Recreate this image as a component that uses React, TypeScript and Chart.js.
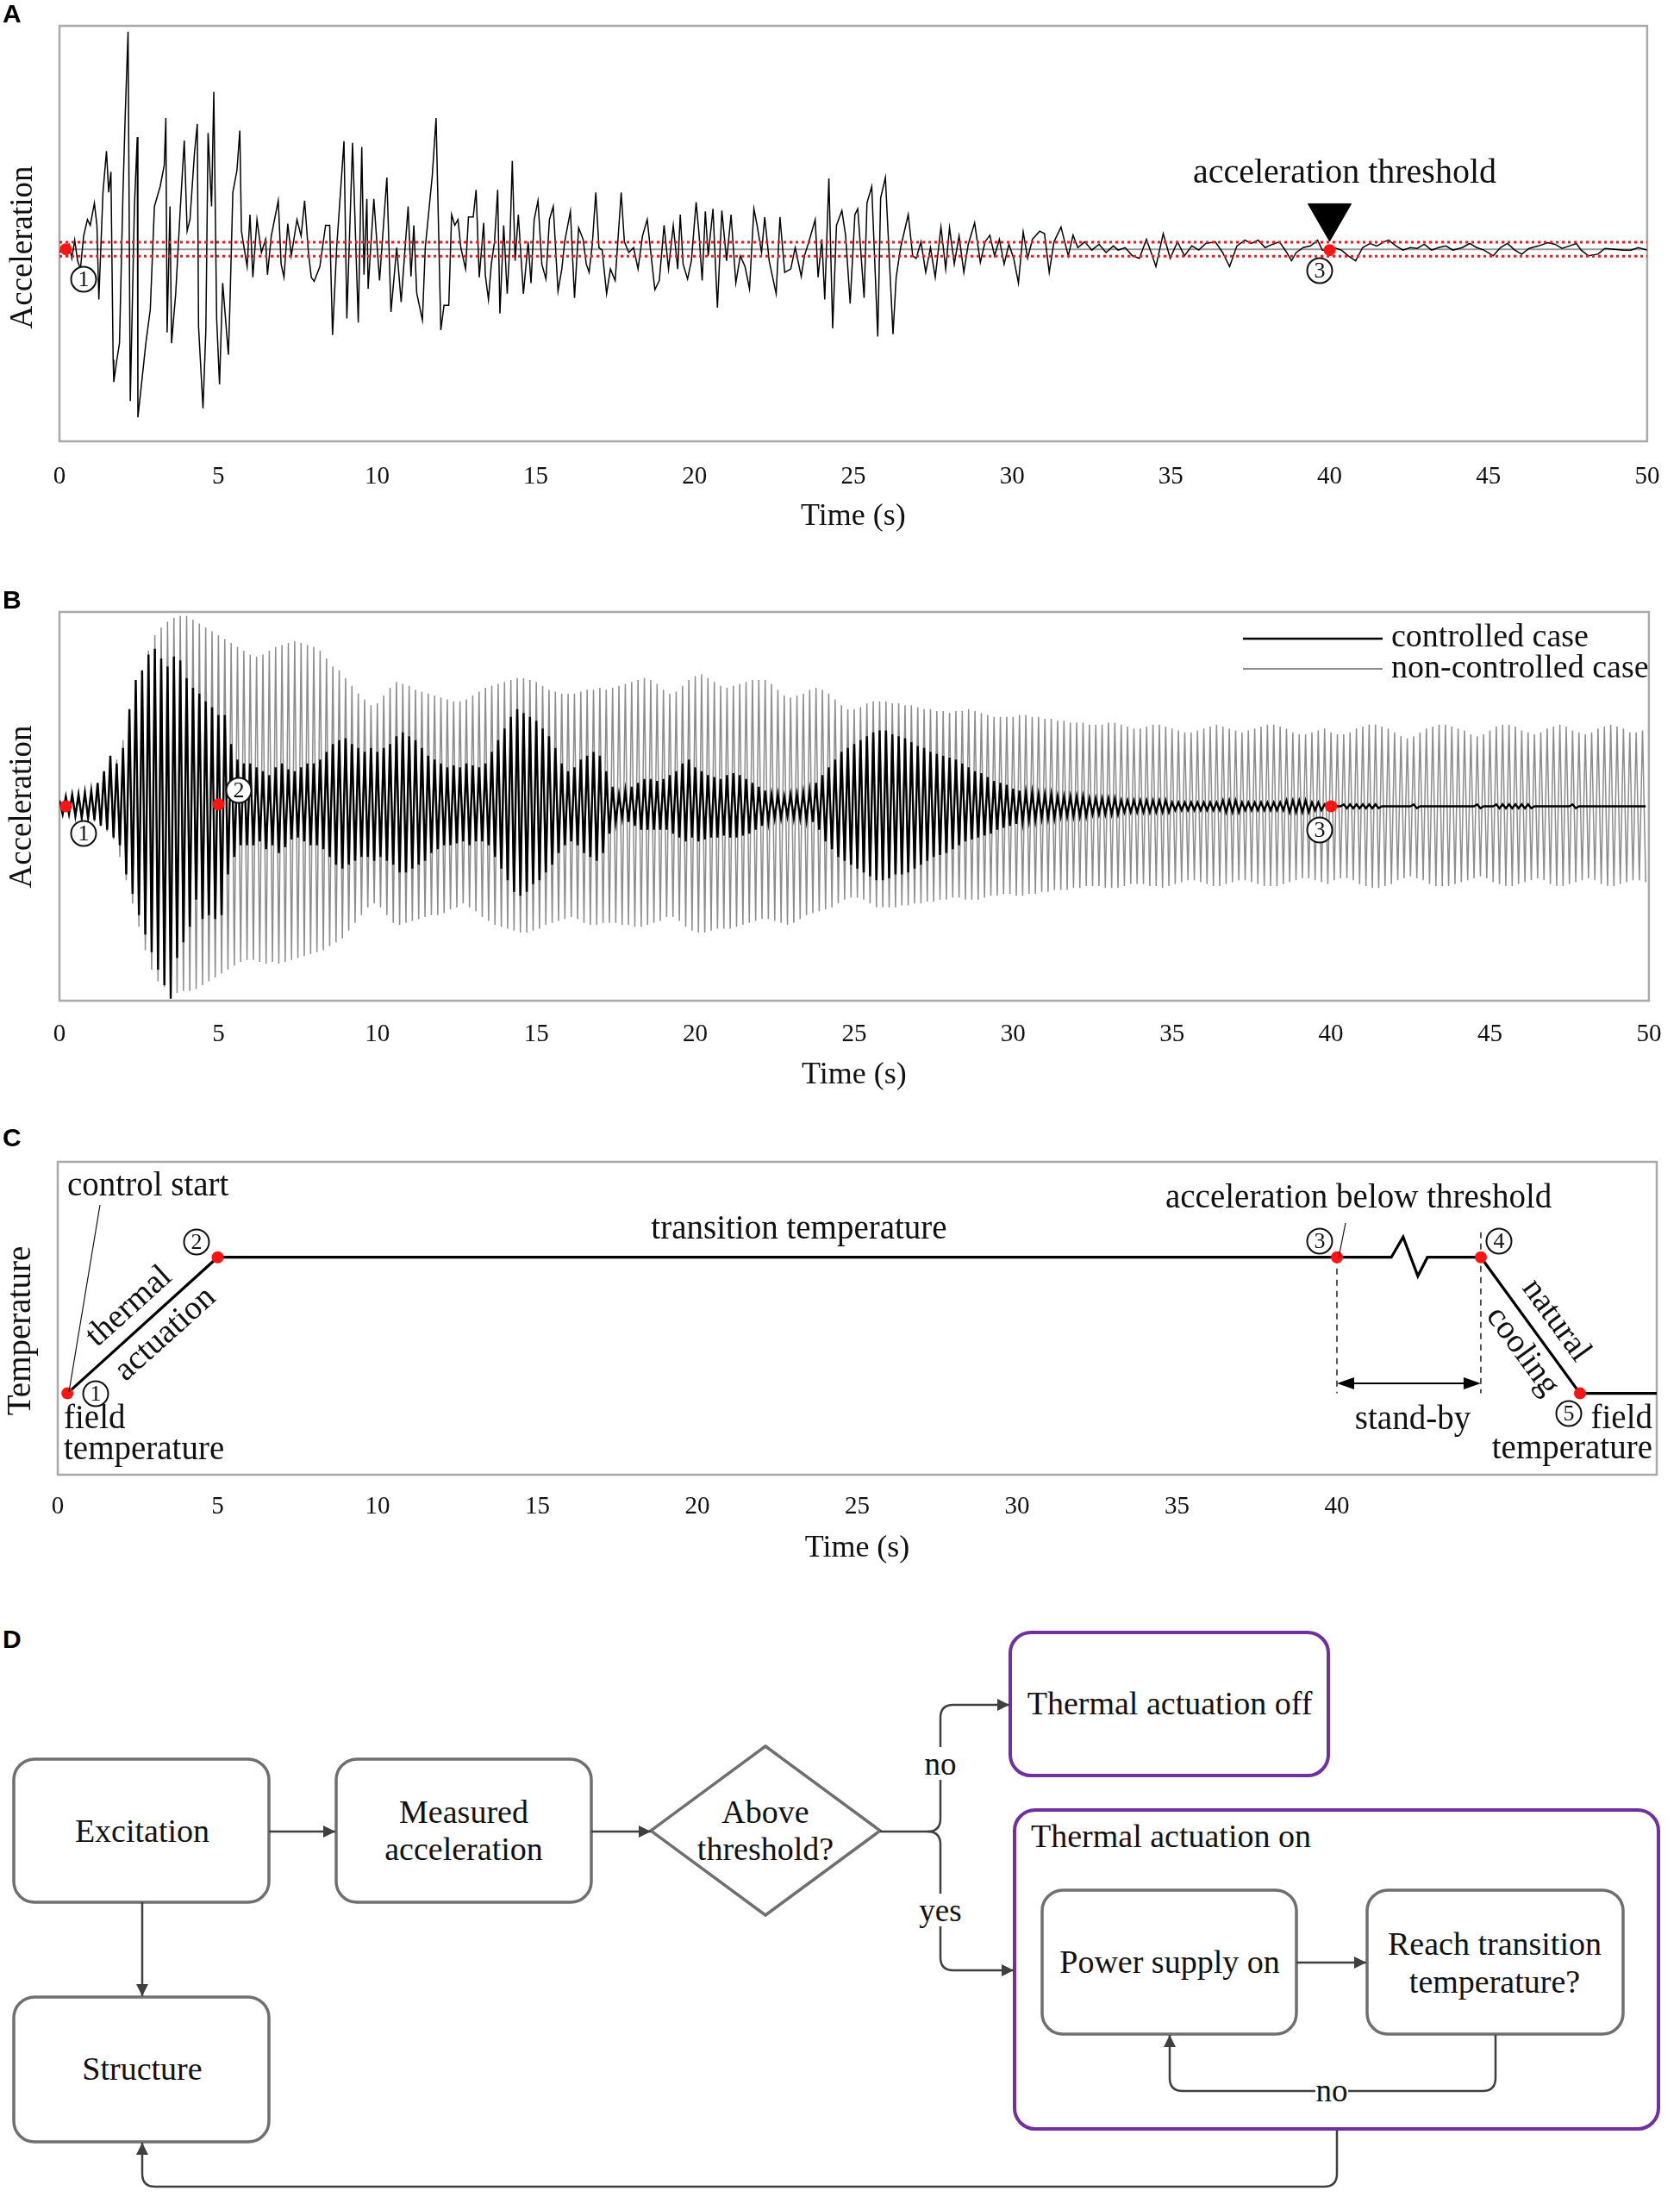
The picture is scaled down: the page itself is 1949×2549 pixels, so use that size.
import React, { useEffect, useRef } from 'react';
import { Chart, registerables } from 'chart.js';

Chart.register(...registerables);

const SERIF = '"Liberation Serif", "Times New Roman", Times, serif';
const SANS = '"Liberation Sans", Arial, Helvetica, sans-serif';
const INK = '#111111';
const FRAME = '#a9a9a9';
const RED = '#ff1414';
const PAGE_W = 1949;

// ---------------- shared time axis ----------------
const timeMin = 0;
const timeMax = 50;
const timeTickStep = 5;
const timeTickLabelsC = [0, 5, 10, 15, 20, 25, 30, 35, 40];

// ---------------- Panel A: measured acceleration ----------------
const timeA = [
  0, 0.1, 0.2, 0.3, 0.39, 0.48, 0.57, 0.66, 0.76, 0.88,
  0.97, 1.1, 1.18, 1.24, 1.37, 1.48, 1.55, 1.62, 1.69, 1.71,
  1.8, 1.89, 2.0, 2.07, 2.16, 2.23, 2.36, 2.45, 2.47, 2.61,
  2.72, 2.86, 2.99, 3.17, 3.3, 3.35, 3.39, 3.48, 3.53, 3.66,
  3.8, 3.93, 4.02, 4.11, 4.25, 4.34, 4.38, 4.52, 4.61, 4.68,
  4.79, 4.86, 4.95, 5.04, 5.14, 5.32, 5.37, 5.46, 5.59, 5.68,
  5.73, 5.91, 6.0, 6.09, 6.22, 6.36, 6.49, 6.55, 6.67, 6.89,
  6.98, 7.07, 7.19, 7.3, 7.48, 7.61, 7.72, 7.84, 7.93, 8.02,
  8.2, 8.38, 8.51, 8.6, 8.73, 8.96, 9.05, 9.23, 9.41, 9.52,
  9.59, 9.68, 9.72, 9.9, 10.08, 10.31, 10.44, 10.62, 10.76, 10.98,
  11.07, 11.16, 11.25, 11.43, 11.52, 11.74, 11.86, 12.01, 12.11, 12.26,
  12.35, 12.45, 12.55, 12.64, 12.79, 12.88, 13.03, 13.12, 13.22, 13.36,
  13.41, 13.51, 13.6, 13.7, 13.8, 13.87, 13.99, 14.1, 14.18, 14.26,
  14.35, 14.45, 14.61, 14.76, 14.85, 14.95, 15.07, 15.19, 15.32, 15.43,
  15.55, 15.7, 15.82, 15.91, 16.09, 16.22, 16.35, 16.49, 16.59, 16.68,
  16.78, 16.89, 16.99, 17.09, 17.23, 17.35, 17.5, 17.69, 17.79, 17.93,
  18.08, 18.22, 18.36, 18.51, 18.61, 18.75, 18.89, 19.04, 19.18, 19.33,
  19.47, 19.55, 19.64, 19.78, 19.9, 20.05, 20.14, 20.24, 20.34, 20.43,
  20.58, 20.72, 20.86, 21.01, 21.15, 21.3, 21.44, 21.59, 21.73, 21.87,
  21.97, 22.11, 22.21, 22.35, 22.57, 22.69, 22.84, 23.03, 23.17, 23.36,
  23.46, 23.6, 23.8, 23.89, 24.01, 24.1, 24.23, 24.35, 24.47, 24.64,
  24.76, 24.9, 25.05, 25.14, 25.34, 25.43, 25.58, 25.77, 25.86, 26.01,
  26.25, 26.35, 26.49, 26.73, 26.87, 26.98, 27.13, 27.28, 27.43, 27.58,
  27.76, 27.91, 28.03, 28.18, 28.33, 28.48, 28.62, 28.82, 29.0, 29.15,
  29.3, 29.45, 29.6, 29.75, 29.9, 30.05, 30.2, 30.35, 30.49, 30.64,
  30.87, 31.02, 31.17, 31.32, 31.54, 31.77, 31.92, 32.07, 32.29, 32.51,
  32.74, 32.96, 33.19, 33.34, 33.56, 33.79, 34.01, 34.23, 34.38, 34.53,
  34.76, 34.98, 35.21, 35.43, 35.66, 35.88, 36.1, 36.4, 36.63, 36.85,
  37.08, 37.33, 37.53, 37.75, 37.97, 38.2, 38.42, 38.65, 38.8, 38.95,
  39.17, 39.4, 39.62, 39.77, 40.0, 40.14, 40.37, 40.59, 40.82, 41.04,
  41.27, 41.49, 41.71, 41.86, 42.09, 42.31, 42.54, 42.76, 42.98, 43.21,
  43.43, 43.66, 43.88, 44.18, 44.41, 44.63, 44.86, 45.15, 45.38, 45.6,
  45.83, 46.05, 46.28, 46.58, 46.87, 47.1, 47.32, 47.55, 47.77, 47.92,
  48.15, 48.45, 48.67, 48.97, 49.27, 49.49, 49.72, 50.0,
];
const accelA = [
  -4, 3, 0, 6, -11, 11, -14, -24, 16, 36,
  29, 56, 29, -61, 69, 119, 69, 94, -134, -161,
  -136, -114, 69, 162, 264, -184, 52, 136, -204, -154,
  -114, -73, 52, 76, 102, 159, -101, 52, -114, -54,
  46, 132, 22, 36, 116, 152, -94, -193, -98, 141,
  52, 191, -84, -164, -41, -128, -64, 69, 96, 144,
  22, -21, 42, -34, 36, -4, 12, -31, 16, 59,
  -18, -34, 31, -8, 36, 16, 59, -4, -34, -39,
  -21, 29, 29, -104, 2, 131, -84, 129, -89, 124,
  -31, 61, -48, 61, -38, 87, -76, 2, -64, 52,
  -33, 29, -53, -86, 2, 89, 159, -98, -68, -68,
  42, 29, 36, 2, -24, 39, 39, 72, -34, 32,
  -31, -61, -18, 9, 72, -78, 29, -54, 2, 107,
  -14, 42, -54, 9, -41, 36, 59, -18, -36, 36,
  52, -51, -24, 9, 46, -59, 26, 12, -18, -28,
  6, 69, 2, -1, -54, -24, -38, 69, 9, -4,
  2, -24, 16, 36, 0, -49, -38, 29, -24, 29,
  -24, 42, -18, -36, -14, 57, 19, -38, 46, -8,
  49, -71, 47, -14, 42, -41, -8, -21, -48, 49,
  29, -4, 39, -14, -54, 39, -28, -24, 2, -33,
  -8, 9, 36, -34, 12, -61, 86, -96, 29, 47,
  16, -66, 42, 49, -59, 56, 76, -106, 62, 87,
  -103, -34, 2, 42, -8, -11, 9, -28, 2, -34,
  27, -24, 26, -18, 16, -28, 6, 32, -16, 9,
  17, -8, 12, -18, 6, -11, -41, 21, -11, 12,
  22, 19, -28, 9, 27, -8, 17, 2, 9, -1,
  6, -4, 4, -1, 2, -8, -11, 12, -4, -21,
  19, -11, 9, -8, 4, -1, 7, 9, -4, -21,
  4, 11, 7, 11, 2, 6, 9, -4, -14, -4,
  2, 4, 11, -1, -1, 2, -1, -8, -14, 2,
  7, 4, 9, 11, 4, -1, 2, 1, 6, -1,
  2, 4, -1, 2, 7, 2, -1, -8, 2, 7,
  -1, -6, 1, 4, 8, 6, 1, 4, 7, -1,
  -8, -6, 1, 0, -1, -1, 2, -1,
];
const accelRangeA = [-233, 271];
const thresholdA = 8.5;
const markerTimesA = [0.2, 40];
const markerAccelA = [0, -1];
const thresholdArrowLevelA = 40;

// ---------------- Panel B: controlled vs non-controlled ----------------
const sampleStepB = 0.1;
const nonControlledB = [
  3, -4, 5, -4, 6, -5, 7, -6, 8, -7, 9, -8, 11, -10, 14, -13, 18, -17, 24, -26,
  34, -38, 46, -50, 58, -62, 70, -74, 80, -84, 88, -90, 92, -93, 95, -95, 97, -96, 98, -95,
  98, -95, 96, -94, 94, -92, 92, -90, 90, -88, 88, -86, 86, -84, 84, -82, 82, -80, 80, -79,
  78, -79, 77, -80, 78, -81, 80, -80, 82, -81, 83, -80, 84, -79, 85, -78, 84, -77, 83, -76,
  82, -75, 80, -74, 76, -72, 72, -70, 70, -68, 66, -64, 62, -60, 58, -56, 55, -52, 52, -50,
  53, -52, 57, -56, 61, -60, 64, -61, 63, -60, 62, -59, 60, -58, 59, -57, 58, -56, 57, -56,
  56, -55, 55, -53, 54, -52, 54, -50, 55, -52, 57, -54, 59, -57, 61, -59, 62, -61, 63, -62,
  64, -63, 65, -64, 66, -65, 66, -65, 65, -64, 64, -63, 62, -61, 60, -60, 59, -59, 58, -58,
  58, -57, 58, -58, 59, -60, 60, -61, 60, -61, 61, -60, 60, -60, 61, -60, 62, -61, 63, -61,
  64, -62, 65, -62, 66, -61, 65, -60, 63, -59, 60, -57, 58, -57, 59, -59, 62, -62, 65, -64,
  67, -65, 68, -65, 66, -64, 64, -63, 62, -63, 61, -63, 62, -62, 63, -61, 64, -60, 65, -59,
  65, -58, 65, -58, 63, -59, 60, -60, 57, -61, 56, -60, 57, -58, 58, -56, 60, -55, 61, -54,
  60, -53, 58, -52, 55, -50, 52, -48, 50, -47, 50, -47, 51, -48, 53, -50, 54, -52, 54, -52,
  54, -52, 53, -52, 53, -51, 52, -51, 52, -50, 51, -50, 50, -49, 50, -49, 49, -48, 49, -48,
  48, -47, 49, -47, 49, -48, 50, -48, 49, -48, 48, -47, 47, -46, 46, -46, 46, -45, 46, -45,
  46, -46, 47, -46, 47, -45, 46, -45, 46, -44, 45, -44, 45, -43, 44, -43, 44, -43, 43, -42,
  43, -42, 43, -41, 42, -41, 42, -41, 42, -42, 43, -42, 43, -42, 42, -41, 41, -40, 40, -40,
  40, -40, 41, -41, 42, -41, 42, -42, 41, -41, 40, -40, 39, -39, 38, -38, 38, -38, 39, -39,
  40, -40, 41, -41, 42, -41, 41, -40, 40, -39, 39, -38, 38, -38, 39, -39, 40, -40, 41, -41,
  42, -41, 42, -41, 41, -40, 40, -39, 38, -38, 37, -37, 37, -37, 38, -38, 39, -39, 40, -40,
  38, -38, 37, -37, 37, -37, 38, -38, 40, -40, 41, -41, 42, -42, 42, -42, 41, -41, 40, -40,
  38, -38, 36, -37, 35, -36, 36, -37, 38, -38, 40, -40, 41, -41, 42, -41, 42, -41, 41, -40,
  40, -39, 39, -38, 37, -37, 36, -36, 37, -37, 39, -39, 41, -40, 42, -41, 42, -41, 41, -40,
  39, -39, 38, -38, 37, -37, 38, -38, 40, -40, 41, -41, 42, -41, 41, -40, 39, -39, 38, -38,
  37, -37, 38, -38, 40, -40, 41, -41, 42, -41, 41, -40, 40, -39, 38, -38, 38, -38, 39, -39,
];
const controlledB = [
  3, -4, 5, -4, 6, -5, 6, -6, 7, -6, 8, -7, 12, -10, 18, -12, 26, -16, 22, -20,
  30, -35, 50, -45, 65, -56, 70, -66, 78, -75, 81, -84, 76, -92, 72, -99, 77, -78, 75, -70,
  66, -62, 61, -48, 58, -58, 54, -56, 51, -58, 47, -56, 47, -35, 32, -26, 24, -20, 22, -20,
  22, -20, 20, -18, 18, -22, 16, -20, 20, -24, 22, -21, 19, -17, 18, -16, 20, -18, 22, -20,
  22, -20, 24, -22, 28, -26, 32, -30, 34, -32, 35, -30, 32, -28, 30, -26, 28, -26, 30, -28,
  28, -26, 30, -28, 32, -30, 36, -34, 38, -34, 36, -32, 34, -30, 30, -28, 26, -24, 24, -22,
  22, -20, 20, -20, 21, -19, 20, -18, 22, -20, 21, -18, 20, -18, 22, -20, 28, -26, 34, -32,
  40, -38, 46, -44, 50, -46, 48, -44, 46, -40, 44, -38, 40, -34, 36, -30, 30, -24, 22, -20,
  18, -18, 20, -20, 24, -24, 26, -26, 28, -28, 26, -24, 18, -14, 10, -8, 6, -6, 8, -8,
  10, -10, 12, -12, 14, -12, 14, -12, 13, -12, 14, -12, 16, -14, 18, -16, 22, -18, 24, -16,
  20, -18, 18, -17, 16, -16, 15, -16, 14, -15, 16, -16, 17, -16, 16, -15, 14, -14, 12, -12,
  10, -10, 8, -8, 6, -6, 6, -6, 5, -5, 6, -6, 6, -6, 7, -7, 8, -8, 12, -12,
  16, -18, 20, -22, 24, -26, 28, -28, 30, -30, 32, -32, 34, -34, 36, -36, 38, -38, 39, -38,
  39, -37, 37, -35, 36, -35, 35, -34, 33, -32, 31, -30, 30, -28, 28, -26, 27, -25, 26, -24,
  25, -22, 24, -20, 22, -18, 20, -17, 18, -16, 17, -15, 15, -14, 13, -12, 12, -11, 11, -10,
  9, -9, 8, -8, 7, -7, 7, -7, 6, -6, 6, -6, 6, -6, 5, -5, 5, -5, 5, -5,
  5, -5, 5, -5, 4, -4, 4, -4, 4, -4, 4, -4, 4, -4, 3, -3, 3, -3, 3, -3,
  3, -3, 3, -3, 3, -3, 3, -3, 3, -3, 2, -2, 2, -2, 2, -2, 2, -2, 2, -2,
  2, -2, 2, -2, 2, -2, 3, -3, 3, -3, 3, -3, 2, -2, 2, -2, 2, -2, 2, -2,
  2, -2, 2, -2, 2, -2, 3, -3, 3, -3, 3, -3, 3, -3, 2, -2, 2, -2, 1, -1,
  0, 0, 0, 0, 1, -1, 1, -1, 1, -1, 1, -1, 1, -1, 1, -1, 0, 0, 0, 0,
  0, 0, 0, 0, 0, 0, 1, -1, 0, 0, 0, 0, 0, 0, 0, 0, 0, 0, 0, 0,
  0, 0, 0, 0, 0, 0, 1, -1, 0, 0, 0, 0, 1, -1, 1, -1, 1, -1, 1, -1,
  1, -1, 1, -1, 0, 0, 0, 0, 0, 0, 0, 0, 0, 0, 0, 0, 1, -1, 0, 0,
  0, 0, 0, 0, 0, 0, 0, 0, 0, 0, 0, 0, 0, 0, 0, 0, 0, 0, 0, 0,
];
const accelRangeB = [-100, 100];
const markerTimesB = [0.2, 5, 40];
const markerAccelB = [0, 1, 0];

// ---------------- Panel C: temperature history ----------------
const timeC = [0.3, 5, 40, 41.7, 42.07, 42.53, 42.83, 44.5, 47.6, 50];
const tempC = [2.6, 6.95, 6.95, 6.95, 7.6, 6.35, 6.95, 6.95, 2.6, 2.6];
const stateTimesC = [0.3, 5, 40, 44.5, 47.6];
const stateTempsC = [2.6, 6.95, 6.95, 6.95, 2.6];
const tempRangeC = [0, 10];
const standbyStart = 40;
const standbyEnd = 44.5;
const standbyArrowTemp = 2.92;
const dashTopTemps = [6.95, 7.75];
const dashBottomTemp = 2.6;

// ---------------- helpers ----------------
const pt = (x: number, y: number) => ({ x, y });
const series = (xs: number[], ys: number[]) => xs.map((x, i) => ({ x, y: ys[i] }));
const sampled = (ys: number[], step: number) => ys.map((y, i) => ({ x: Math.round(i * step * 10) / 10, y }));

function drawText(ctx: any, s: string, x: number, y: number, size: number, align: string = 'center', angle = 0) {
  ctx.save();
  ctx.translate(x, y);
  if (angle) ctx.rotate((angle * Math.PI) / 180);
  ctx.font = `${size}px ${SERIF}`;
  ctx.textAlign = align;
  ctx.textBaseline = 'middle';
  ctx.fillStyle = INK;
  ctx.fillText(s, 0, 0);
  ctx.restore();
}

function drawCircled(ctx: any, label: string, x: number, y: number) {
  ctx.save();
  ctx.beginPath();
  ctx.arc(x, y, 14.5, 0, Math.PI * 2);
  ctx.fillStyle = '#ffffff';
  ctx.fill();
  ctx.lineWidth = 2;
  ctx.strokeStyle = INK;
  ctx.stroke();
  ctx.font = `26px ${SERIF}`;
  ctx.textAlign = 'center';
  ctx.textBaseline = 'middle';
  ctx.fillStyle = INK;
  ctx.fillText(label, x, y + 1);
  ctx.restore();
}

function drawLine(ctx: any, x1: number, y1: number, x2: number, y2: number, w: number, color = INK) {
  ctx.save();
  ctx.beginPath();
  ctx.moveTo(x1, y1);
  ctx.lineTo(x2, y2);
  ctx.lineWidth = w;
  ctx.strokeStyle = color;
  ctx.stroke();
  ctx.restore();
}

const framePlugin = {
  id: 'frame',
  beforeDatasetsDraw(chart: any) {
    const { ctx, chartArea: a } = chart;
    ctx.save();
    ctx.strokeStyle = FRAME;
    ctx.lineWidth = 2.5;
    ctx.strokeRect(a.left, a.top, a.right - a.left, a.bottom - a.top);
    ctx.restore();
  },
};

function chartOptions(o: any) {
  return {
    responsive: false,
    maintainAspectRatio: false,
    animation: false,
    devicePixelRatio: 1,
    events: [],
    layout: { padding: { left: o.padLeft, right: o.padRight, top: o.padTop, bottom: 0 } },
    plugins: { legend: { display: false }, tooltip: { enabled: false } },
    scales: {
      x: {
        type: 'linear',
        min: timeMin,
        max: timeMax,
        grid: { display: false, drawTicks: false },
        border: { display: false },
        ticks: {
          stepSize: timeTickStep,
          autoSkip: false,
          maxRotation: 0,
          padding: o.tickPad,
          color: INK,
          font: { family: SERIF, size: 29 },
          callback: (v: any) => (o.showTick(Number(v)) ? String(v) : ''),
        },
        title: {
          display: true,
          text: 'Time (s)',
          color: INK,
          font: { family: SERIF, size: 36 },
          padding: { top: 0, bottom: o.titlePad },
        },
        afterFit: (s: any) => {
          s.height = o.axisH;
        },
      },
      y: { type: 'linear', display: false, min: o.yMin, max: o.yMax },
    },
  };
}

const line = (label: string, data: any[], color: string, width: number, order: number, extra: any = {}) => ({
  label,
  data,
  borderColor: color,
  backgroundColor: color,
  borderWidth: width,
  pointRadius: 0,
  tension: 0,
  fill: false,
  order,
  ...extra,
});

const markers = (data: any[], order = 0) => ({
  label: 'markers',
  data,
  showLine: false,
  pointRadius: 7,
  pointBackgroundColor: RED,
  pointBorderColor: RED,
  pointBorderWidth: 0,
  order,
});

// ---------------- Panel A config ----------------
function buildA() {
  const notes = {
    id: 'notesA',
    afterDatasetsDraw(chart: any) {
      const ctx = chart.ctx;
      drawText(ctx, 'Acceleration', 27, 287, 37, 'center', -90);
      drawText(ctx, 'acceleration threshold', 1560, 201, 40);
      drawCircled(ctx, '1', 97, 324);
      drawCircled(ctx, '3', 1531, 314);
    },
  };
  return {
    type: 'line',
    data: {
      datasets: [
        markers(series(markerTimesA, markerAccelA), 0),
        {
          label: 'threshold arrow',
          data: [pt(markerTimesA[1], thresholdArrowLevelA)],
          showLine: false,
          pointStyle: 'triangle',
          pointRotation: 180,
          pointRadius: 29,
          pointBackgroundColor: '#000',
          pointBorderColor: '#000',
          pointBorderWidth: 1,
          order: 1,
        },
        line('upper threshold', [pt(timeMin, thresholdA), pt(timeMax, thresholdA)], RED, 3, 2, { borderDash: [3, 4] }),
        line('lower threshold', [pt(timeMin, -thresholdA), pt(timeMax, -thresholdA)], RED, 3, 2, { borderDash: [3, 4] }),
        line('acceleration', series(timeA, accelA), '#000', 1.5, 3),
        line('zero', [pt(timeMin, 0), pt(timeMax, 0)], '#9a9a9a', 2, 4),
      ],
    },
    options: chartOptions({
      padLeft: 69, padRight: 23, padTop: 8, axisH: 128, tickPad: 23.6, titlePad: 18.4,
      yMin: accelRangeA[0], yMax: accelRangeA[1], showTick: () => true,
    }),
    plugins: [framePlugin, notes],
  };
}

// ---------------- Panel B config ----------------
function buildB() {
  const notes = {
    id: 'notesB',
    afterDatasetsDraw(chart: any) {
      const ctx = chart.ctx;
      drawText(ctx, 'Acceleration', 26, 276, 37, 'center', -90);
      drawLine(ctx, 1442, 81, 1604, 81, 2.6, '#000');
      drawLine(ctx, 1442, 116, 1604, 116, 2, '#8c8c8c');
      drawText(ctx, 'controlled case', 1614, 80, 38, 'left');
      drawText(ctx, 'non-controlled case', 1614, 116, 38, 'left');
      drawCircled(ctx, '1', 97, 307);
      drawCircled(ctx, '2', 277, 257);
      drawCircled(ctx, '3', 1531, 303);
    },
  };
  return {
    type: 'line',
    data: {
      datasets: [
        markers(series(markerTimesB, markerAccelB), 0),
        line('controlled case', sampled(controlledB, sampleStepB), '#000', 2.4, 1),
        line('non-controlled case', sampled(nonControlledB, sampleStepB), '#8c8c8c', 1.5, 2),
      ],
    },
    options: chartOptions({
      padLeft: 69, padRight: 23, padTop: 50, axisH: 119, tickPad: 21.6, titlePad: 10.4,
      yMin: accelRangeB[0], yMax: accelRangeB[1], showTick: () => true,
    }),
    plugins: [framePlugin, notes],
  };
}

// ---------------- Panel C config ----------------
function buildC() {
  const notes = {
    id: 'notesC',
    afterDatasetsDraw(chart: any) {
      const ctx = chart.ctx;
      const xs = chart.scales.x;
      const ys = chart.scales.y;
      drawText(ctx, 'Temperature', 25, 254, 39, 'center', -90);
      // stand-by double arrow
      const xa = xs.getPixelForValue(standbyStart);
      const xb = xs.getPixelForValue(standbyEnd);
      const ya = ys.getPixelForValue(standbyArrowTemp);
      drawLine(ctx, xa + 4, ya, xb - 4, ya, 2.2, '#000');
      ctx.save();
      ctx.fillStyle = '#000';
      ctx.beginPath();
      ctx.moveTo(xa, ya); ctx.lineTo(xa + 20, ya - 7); ctx.lineTo(xa + 20, ya + 7); ctx.closePath(); ctx.fill();
      ctx.beginPath();
      ctx.moveTo(xb, ya); ctx.lineTo(xb - 20, ya - 7); ctx.lineTo(xb - 20, ya + 7); ctx.closePath(); ctx.fill();
      ctx.restore();
      // leader lines
      drawLine(ctx, 116, 108, 80, 325, 1.2);
      drawLine(ctx, 1553, 169, 1561, 129, 1.2);
      // labels
      drawText(ctx, 'control start', 78, 87, 39, 'left');
      drawText(ctx, 'transition temperature', 927, 137, 39);
      drawText(ctx, 'acceleration below threshold', 1352, 101, 39, 'left');
      drawText(ctx, 'stand-by', 1639, 358, 39);
      drawText(ctx, 'field', 74, 357, 39, 'left');
      drawText(ctx, 'temperature', 74, 393, 39, 'left');
      drawText(ctx, 'field', 1917, 357, 39, 'right');
      drawText(ctx, 'temperature', 1917, 392, 39, 'right');
      drawText(ctx, 'thermal', 150, 226, 39, 'center', -42);
      drawText(ctx, 'actuation', 192, 258, 39, 'center', -42);
      drawText(ctx, 'natural', 1805, 242, 39, 'center', 54);
      drawText(ctx, 'cooling', 1766, 278, 39, 'center', 54);
      drawCircled(ctx, '1', 111, 327);
      drawCircled(ctx, '2', 228, 151);
      drawCircled(ctx, '3', 1531, 150);
      drawCircled(ctx, '4', 1739, 150);
      drawCircled(ctx, '5', 1820, 350);
    },
  };
  return {
    type: 'line',
    data: {
      datasets: [
        markers(series(stateTimesC, stateTempsC), 0),
        line('temperature', series(timeC, tempC), '#000', 3.2, 1),
        line('stand-by start', [pt(standbyStart, dashTopTemps[0]), pt(standbyStart, dashBottomTemp)], '#222', 1.5, 2, { borderDash: [7, 6] }),
        line('stand-by end', [pt(standbyEnd, dashTopTemps[1]), pt(standbyEnd, dashBottomTemp)], '#222', 1.5, 2, { borderDash: [7, 6] }),
      ],
    },
    options: chartOptions({
      padLeft: 67, padRight: 27, padTop: 58, axisH: 119, tickPad: 19.6, titlePad: 11.4,
      yMin: tempRangeC[0], yMax: tempRangeC[1], showTick: (v: number) => timeTickLabelsC.includes(v),
    }),
    plugins: [framePlugin, notes],
  };
}

function ChartCanvas({ top, height, build }: { top: number; height: number; build: () => any }) {
  const ref = useRef<HTMLCanvasElement | null>(null);
  useEffect(() => {
    if (!ref.current) return;
    const chart = new Chart(ref.current, build());
    return () => chart.destroy();
  }, [build]);
  return (
    <div style={{ position: 'absolute', left: 0, top, width: PAGE_W, height }}>
      <canvas ref={ref} width={PAGE_W} height={height} style={{ display: 'block' }} />
    </div>
  );
}

// ---------------- Panel D: flow chart ----------------
function FlowChart() {
  const gray = '#6f6f6f';
  const purple = '#7030a0';
  const arrow = '#3f3f3f';
  const tx = (s: string, x: number, y: number, anchor: string = 'middle', size = 38) => (
    <text x={x} y={y} fontFamily={SERIF} fontSize={size} fill={INK} textAnchor={anchor as any} dominantBaseline="central">
      {s}
    </text>
  );
  const box = (x: number, y: number, w: number, h: number, color: string, sw: number) => (
    <rect x={x} y={y} width={w} height={h} rx={24} ry={24} fill="#fff" stroke={color} strokeWidth={sw} />
  );
  const path = (d: string, withArrow = true) => (
    <path d={d} fill="none" stroke={arrow} strokeWidth={2.5} markerEnd={withArrow ? 'url(#ah)' : undefined} />
  );
  const tag = (s: string, x: number, y: number, w: number) => (
    <g>
      <rect x={x - w / 2} y={y - 19} width={w} height={38} fill="#fff" />
      {tx(s, x, y, 'middle', 37)}
    </g>
  );
  return (
    <svg width={PAGE_W} height={709} viewBox="0 1840 1949 709" style={{ position: 'absolute', left: 0, top: 1840 }}>
      <defs>
        <marker id="ah" viewBox="0 0 10 10" refX="10" refY="5" markerWidth="14" markerHeight="14" markerUnits="userSpaceOnUse" orient="auto">
          <path d="M0,0 L10,5 L0,10 z" fill={arrow} />
        </marker>
      </defs>

      {box(16, 2041, 296, 166, gray, 3.5)}
      {box(16, 2317, 296, 168, gray, 3.5)}
      {box(390, 2041, 296, 166, gray, 3.5)}
      <polygon points="888,2026 1021,2124 888,2222 755,2124" fill="#fff" stroke={gray} strokeWidth={3.5} />
      {box(1172, 1894, 369, 166, purple, 4)}
      {box(1177, 2100, 747, 370, purple, 4)}
      {box(1209, 2193, 295, 167, gray, 3.5)}
      {box(1586, 2193, 297, 167, gray, 3.5)}

      {path('M312,2125 H389')}
      {path('M686,2125 H755')}
      {path('M165,2207 V2316')}
      {path('M1021,2125 H1076 Q1091,2125 1091,2110 V1993 Q1091,1978 1106,1978 H1171')}
      {path('M1076,2125 Q1091,2125 1091,2140 V2271 Q1091,2286 1106,2286 H1176')}
      {path('M1504,2277 H1585')}
      {path('M1735,2361 V2411 Q1735,2426 1720,2426 H1372 Q1357,2426 1357,2411 V2361')}
      {path('M1551,2472 V2522 Q1551,2537 1536,2537 H180 Q165,2537 165,2522 V2486')}

      {tx('Excitation', 165, 2124)}
      {tx('Structure', 165, 2400)}
      {tx('Measured', 538, 2102)}
      {tx('acceleration', 538, 2145)}
      {tx('Above', 888, 2102)}
      {tx('threshold?', 888, 2145)}
      {tx('Thermal actuation off', 1357, 1976)}
      {tx('Thermal actuation on', 1196, 2130, 'start')}
      {tx('Power supply on', 1357, 2276)}
      {tx('Reach transition', 1734, 2255)}
      {tx('temperature?', 1734, 2299)}
      {tag('no', 1091, 2046, 36)}
      {tag('yes', 1091, 2216, 50)}
      {tag('no', 1545, 2425, 38)}
    </svg>
  );
}

function PanelLetter({ text, top }: { text: string; top: number }) {
  return (
    <div
      style={{
        position: 'absolute',
        left: 3,
        top,
        fontFamily: SANS,
        fontWeight: 'bold',
        fontSize: 30,
        lineHeight: '30px',
        color: '#000',
      }}
    >
      {text}
    </div>
  );
}

export default function App() {
  return (
    <div style={{ position: 'absolute', left: 0, top: 0, width: PAGE_W, height: 2549, background: '#fff', overflow: 'hidden' }}>
      <ChartCanvas top={0} height={640} build={buildA} />
      <ChartCanvas top={660} height={620} build={buildB} />
      <ChartCanvas top={1290} height={540} build={buildC} />
      <FlowChart />
      <PanelLetter text="A" top={1} />
      <PanelLetter text="B" top={681} />
      <PanelLetter text="C" top={1305} />
      <PanelLetter text="D" top={1887} />
    </div>
  );
}
